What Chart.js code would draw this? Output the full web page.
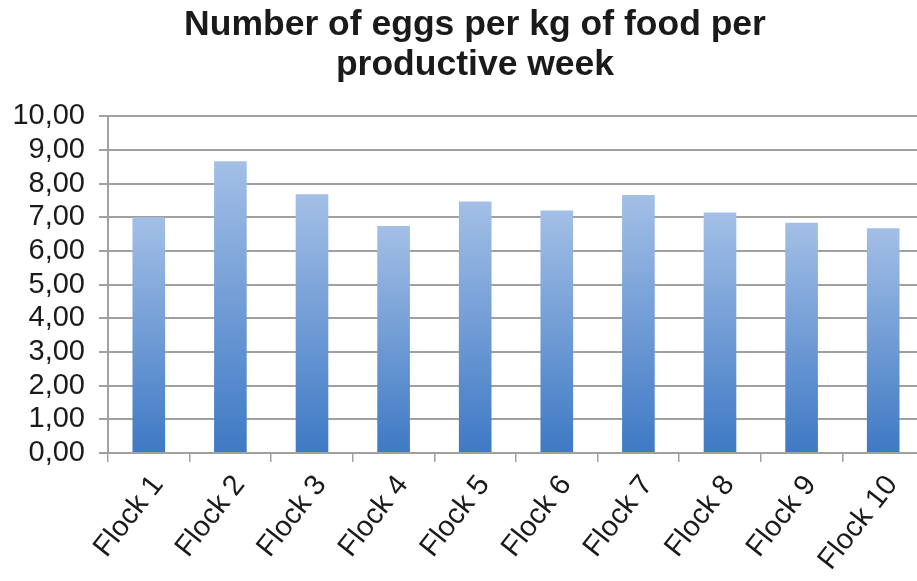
<!DOCTYPE html>
<html>
<head>
<meta charset="utf-8">
<script src="https://cdn.jsdelivr.net/npm/chart.js@4"></script>
<style>
  html, body { margin: 0; padding: 0; background: #fff; overflow: hidden; }
  #wrap { width: 950px; height: 581px; }
</style>
</head>
<body>
<div id="wrap"><canvas id="chart" width="950" height="581"></canvas></div>
<script>
const flocks = ['Flock 1', 'Flock 2', 'Flock 3', 'Flock 4', 'Flock 5', 'Flock 6', 'Flock 7', 'Flock 8', 'Flock 9', 'Flock 10'];
const eggsPerKg = [7.00, 8.66, 7.68, 6.74, 7.47, 7.20, 7.66, 7.14, 6.84, 6.67];
const yTicks = [0, 1, 2, 3, 4, 5, 6, 7, 8, 9, 10];

// light top, darker bottom on every bar
function barGradient(context) {
  const chart = context.chart;
  if (!chart.chartArea || context.parsed == null) return '#6f9bd6';
  const y = chart.scales.y;
  const top = y.getPixelForValue(context.parsed.y);
  const base = y.getPixelForValue(0);
  const g = chart.ctx.createLinearGradient(0, top, 0, base);
  g.addColorStop(0, '#a3bfe6');
  g.addColorStop(1, '#3e79c4');
  return g;
}

Chart.defaults.font.family = '"Liberation Sans", Arial, sans-serif';
Chart.defaults.color = '#1a1a1a';

new Chart(document.getElementById('chart'), {
  type: 'bar',
  data: {
    labels: flocks,
    datasets: [{
      data: eggsPerKg,
      backgroundColor: barGradient,
      borderWidth: 0,
      categoryPercentage: 1.0,
      barPercentage: 0.4
    }]
  },
  options: {
    responsive: false,
    animation: false,
    layout: { padding: 0 },
    plugins: {
      legend: { display: false },
      tooltip: { enabled: false },
      title: {
        display: true,
        text: ['Number of eggs per kg of food per', 'productive week'],
        color: '#1a1a1a',
        font: { size: 35.5, weight: 'bold', lineHeight: 1.13 },
        padding: { top: 5, bottom: 31 }
      }
    },
    scales: {
      x: {
        grid: {
          display: true,
          drawOnChartArea: false,
          offset: true,
          tickLength: 9,
          color: '#a0a0a0',
          lineWidth: 1.5
        },
        border: { color: '#a0a0a0', width: 2 },
        ticks: {
          font: { size: 29 },
          minRotation: 52,
          maxRotation: 52,
          padding: 7,
          labelOffset: 9
        },
        afterFit: function (scale) { scale.height = 128; }
      },
      y: {
        min: 0,
        max: 10,
        afterBuildTicks: function (scale) {
          scale.ticks = yTicks.map(v => ({ value: v }));
        },
        grid: {
          color: '#a0a0a0',
          lineWidth: 2,
          tickLength: 9
        },
        border: { color: '#a0a0a0', width: 2 },
        ticks: {
          autoSkip: false,
          font: { size: 29 },
          padding: 14,
          callback: v => v.toFixed(2).replace('.', ',')
        },
        afterFit: function (scale) { scale.width = 108; }
      },
      // empty right-hand strip (outside the window) so the title centres like the original
      spacer: {
        type: 'linear',
        position: 'right',
        grid: { display: false },
        border: { display: false },
        ticks: { display: false },
        afterFit: function (scale) { scale.width = 26; }
      }
    }
  }
});
</script>
</body>
</html>
